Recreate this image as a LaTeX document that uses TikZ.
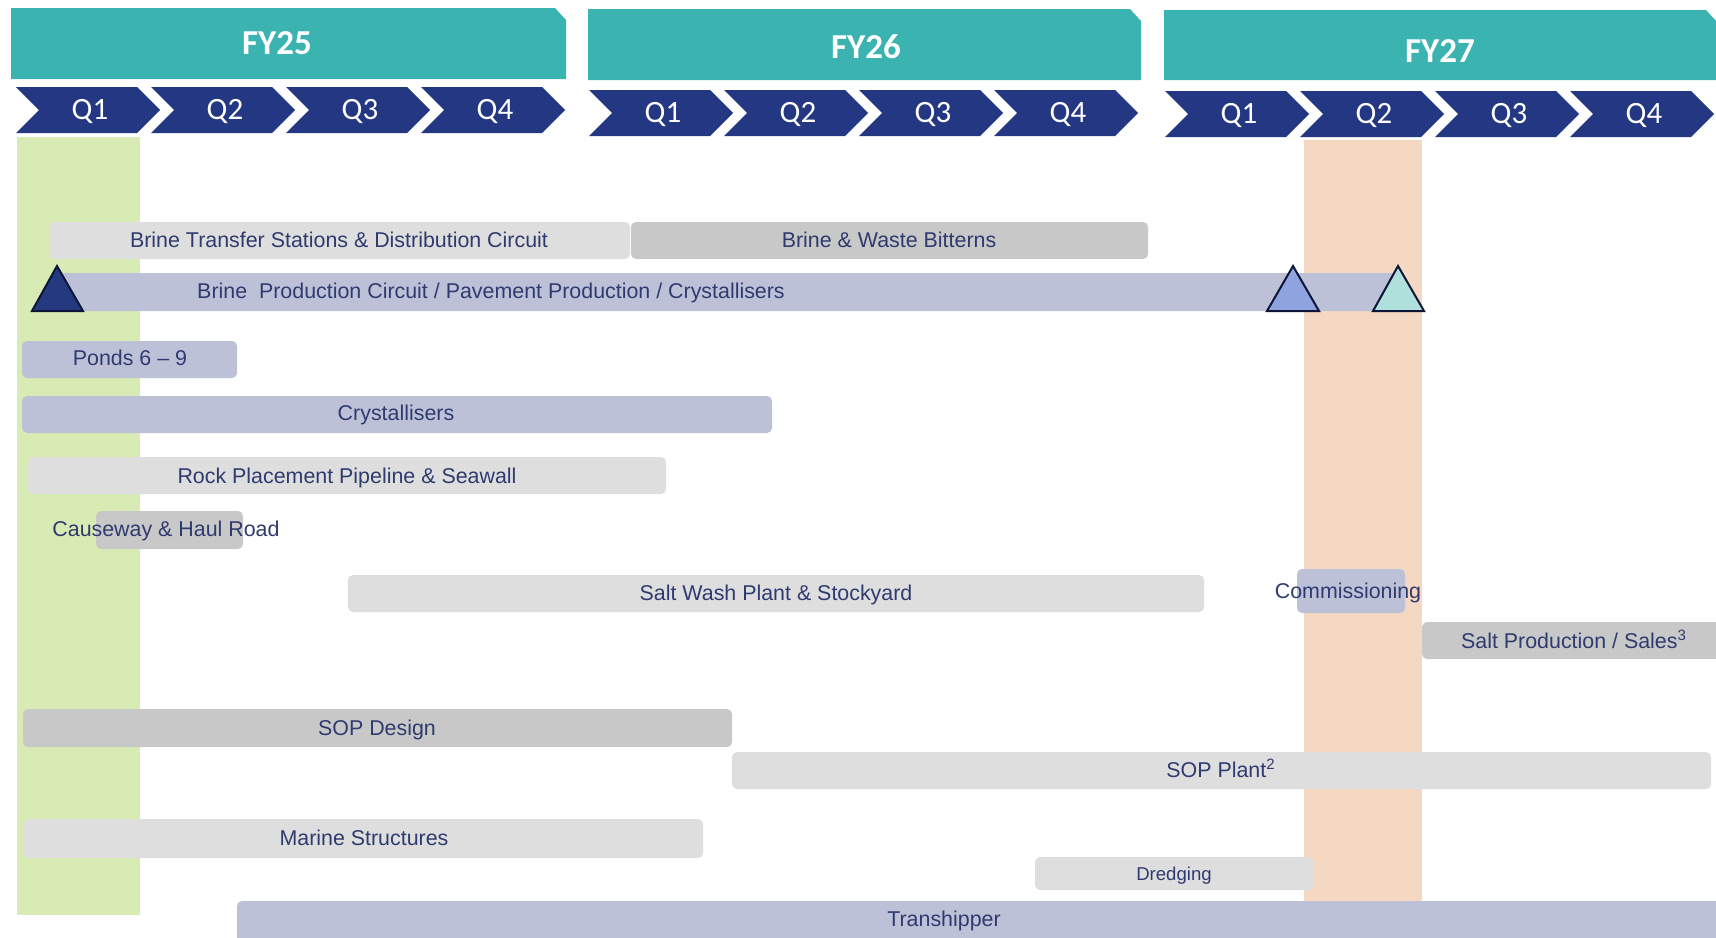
\documentclass[tikz,border=0pt]{standalone}
\usepackage{fontspec}
\setmainfont{Liberation Sans}
\newfontfamily\headfont{Carlito}
\usetikzlibrary{positioning}

\definecolor{fyteal}{HTML}{3AB3B1}
\definecolor{qnavy}{HTML}{243783}
\definecolor{qonegreen}{HTML}{D9EBB5}
\definecolor{qtwopeach}{HTML}{F4D8C1}
\definecolor{barlight}{HTML}{DEDEDE}
\definecolor{bardark}{HTML}{C8C8C8}
\definecolor{barblue}{HTML}{BDC1D8}
\definecolor{txtblue}{HTML}{2F3B6F}
\definecolor{mileline}{HTML}{0D1538}
\definecolor{mileone}{HTML}{24397F}
\definecolor{miletwo}{HTML}{8FA3DE}
\definecolor{milethree}{HTML}{B0E0DB}

\begin{document}
\begin{tikzpicture}[x=0.5pt,y=-0.5pt,
  lbl/.style={font=\fontsize{10.7}{12}\selectfont, text=txtblue, inner sep=0pt, anchor=base, yshift=1pt},
  qlbl/.style={font=\headfont\fontsize{15.5}{16}\selectfont, text=white, inner sep=0pt, anchor=base, yshift=1.5pt},
  fylbl/.style={font=\headfont\bfseries\fontsize{17.5}{18}\selectfont, text=white, inner sep=0pt, anchor=base},
  barbox/.style={rounded corners=2.5pt},
  milestone/.style={draw=mileline, line width=1pt, line join=miter}]

\clip (0,0) rectangle (1716,937);
\fill[white] (0,0) rectangle (1716,937);

% --- Year headers and quarter chevrons ---
\foreach \yr/\xa/\xb/\ya/\yb/\cx/\cy/\qx/\qy in
  {25/11/566/8/79/277/54/16/87, 26/588/1141/9/80/866/58/589/90, 27/1164/1717/10/80/1440/62/1165/91}
{
    \fill[fyteal] (\xa,\ya) -- ({\xb-11},\ya) -- (\xb,{\ya+12}) -- (\xb,\yb) -- (\xa,\yb) -- cycle;
    \node[fylbl] (fy\yr) at (\cx,\cy) {FY\yr};
    \foreach \i in {1,...,4}
    {
        \fill[qnavy] ({\qx+(\i-1)*135},\qy) -- ++(121,0) -- ++(23,23) -- ++(-23,23)
            -- ++(-121,0) -- ++(23,-23) -- cycle;
        \node[qlbl] (q\yr\i) at ({\qx+(\i-1)*135+74},{\qy+35}) {Q\i};
    }
}

% Highlighted quarters (FY25 Q1, FY27 Q2)
\fill[qonegreen] (17,137) rectangle (140,915);
\fill[qtwopeach] (1304,140) rectangle (1422,925);

% --- Brine ---
\fill[barlight, barbox] (49,222) rectangle (630,259);
\node[lbl] (brinetransfer) at (339,249) {Brine Transfer Stations \& Distribution Circuit};
\fill[bardark, barbox] (631,222) rectangle (1148,259);
\node[lbl] (bitterns) at (889,249) {Brine \& Waste Bitterns};

\fill[barblue, barbox] (57,273) rectangle (1398,311);
\node[lbl] (brineprod) at (491,300) {Brine\ \ Production Circuit / Pavement Production / Crystallisers};

% Milestones
\filldraw[milestone, fill=mileone] (57,266) -- (83,311) -- (32,311) -- cycle;
\filldraw[milestone, fill=miletwo] (1293,266) -- (1319,311) -- (1267,311) -- cycle;
\filldraw[milestone, fill=milethree] (1398,266) -- (1424,311) -- (1373,311) -- cycle;

% --- Ponds and crystallisers ---
\fill[barblue, barbox] (22,341) rectangle (237,378);
\node[lbl] (ponds) at (130,367) {Ponds 6 – 9};
\fill[barblue, barbox] (22,396) rectangle (772,433);
\node[lbl] (crystallisers) at (396,422) {Crystallisers};

% --- Rock and causeway ---
\fill[barlight, barbox] (28,457) rectangle (666,494);
\node[lbl] (rock) at (347,485) {Rock Placement Pipeline \& Seawall};
\fill[bardark, barbox] (96,511) rectangle (243,549);
\node[lbl] (causeway) at (166,538) {Causeway \& Haul Road};

% --- Salt ---
\fill[barlight, barbox] (348,575) rectangle (1204,612);
\node[lbl] (saltwash) at (776,602) {Salt Wash Plant \& Stockyard};
\fill[barblue, barbox] (1297,569) rectangle (1405,613);
\node[lbl] (commissioning) at (1348,600) {Commissioning};
\fill[bardark, barbox] (1422,622) rectangle (1730,659);
\node[lbl] (saltprod) at (1574,650) {Salt Production / Sales\textsuperscript{3}};

% --- SOP ---
\fill[bardark, barbox] (23,709) rectangle (732,747);
\node[lbl] (sopdesign) at (377,737) {SOP Design};
\fill[barlight, barbox] (732,752) rectangle (1711,789);
\node[lbl] (sopplant) at (1221,779) {SOP Plant\textsuperscript{2}};

% --- Marine ---
\fill[barlight, barbox] (24,819) rectangle (703,858);
\node[lbl] (marine) at (364,847) {Marine Structures};
\fill[barlight, barbox] (1035,857) rectangle (1314,890);
\node[lbl, font=\fontsize{9.3}{11}\selectfont] (dredging) at (1174,882) {Dredging};
\fill[barblue, barbox] (237,901) rectangle (1730,950);
\node[lbl] (transhipper) at (944,928) {Transhipper};

\end{tikzpicture}
\end{document}
